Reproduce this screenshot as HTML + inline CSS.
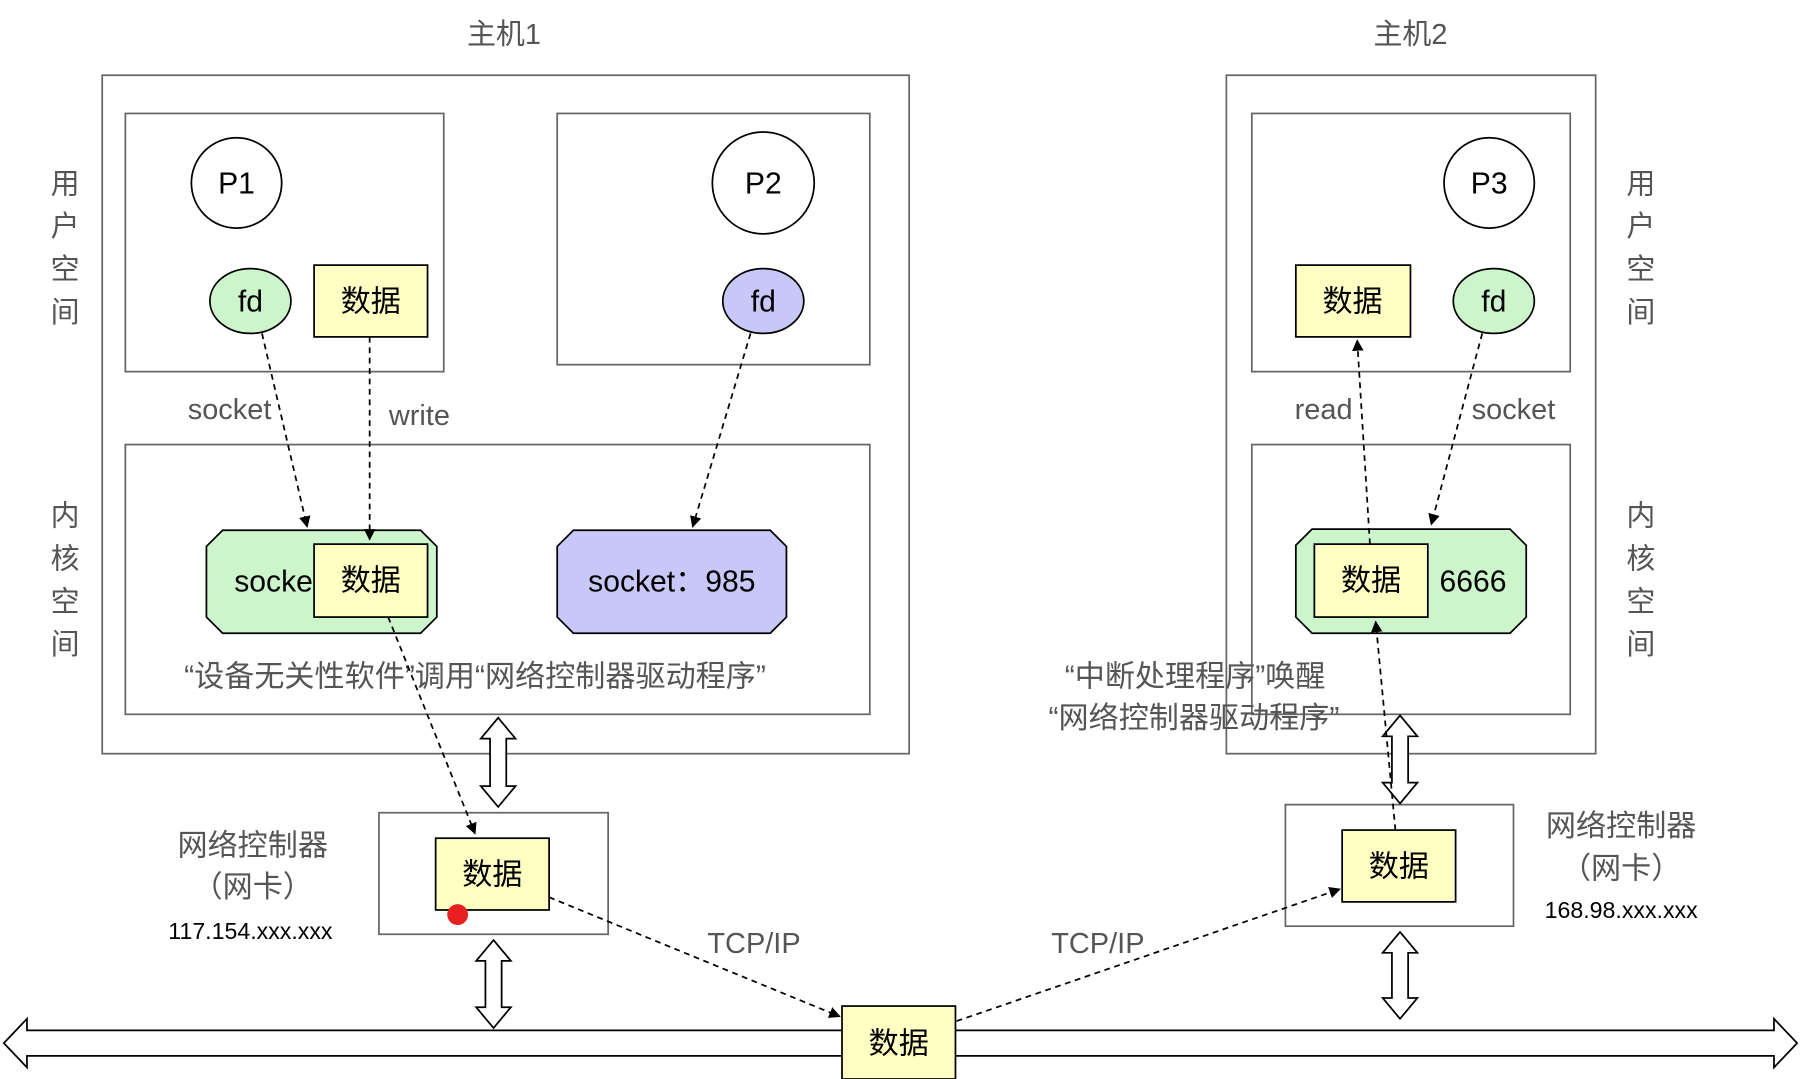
<!DOCTYPE html>
<html><head><meta charset="utf-8">
<style>
html,body{margin:0;padding:0;background:#fff;width:1816px;height:1079px;overflow:hidden}
svg{display:block}
text{font-family:"Liberation Sans","Noto Sans CJK SC",sans-serif}
</style></head><body>
<svg width="1816" height="1079" viewBox="0 0 1568 932" xmlns="http://www.w3.org/2000/svg">
<defs>
<marker id="ah" markerWidth="10" markerHeight="10" refX="9" refY="5" orient="auto" markerUnits="userSpaceOnUse">
<path d="M0,0 L10,5 L0,10 z" fill="#000"/></marker>
</defs>
<rect width="1568" height="932" fill="#fff"/>
<g font-size="25" fill="#555" text-anchor="middle">
<text x="435" y="38">主机1</text><text x="1218" y="38">主机2</text>
</g>
<g fill="none" stroke="#666" stroke-width="1.5">
<rect x="88" y="65" width="697" height="586"/>
<rect x="1059" y="65" width="319" height="586"/>
<rect x="108" y="98" width="275" height="223"/>
<rect x="481" y="98" width="270" height="217"/>
<rect x="108" y="384" width="643" height="233"/>
<rect x="1081" y="98" width="275" height="223"/>
<rect x="1081" y="384" width="275" height="233"/>
<rect x="327" y="702" width="198" height="105"/>
<rect x="1110" y="695" width="197" height="105"/>
</g>
<g font-size="25" fill="#555" text-anchor="middle">
<text x="56" y="167">用</text><text x="56" y="204">户</text><text x="56" y="241">空</text><text x="56" y="278">间</text>
<text x="56" y="454">内</text><text x="56" y="491">核</text><text x="56" y="528">空</text><text x="56" y="565">间</text>
<text x="1417" y="167">用</text><text x="1417" y="204">户</text><text x="1417" y="241">空</text><text x="1417" y="278">间</text>
<text x="1417" y="454">内</text><text x="1417" y="491">核</text><text x="1417" y="528">空</text><text x="1417" y="565">间</text>
</g>
<g stroke="#000" stroke-width="1.5" fill="#fff">
<circle cx="204" cy="158" r="39"/><circle cx="659" cy="158" r="44"/><circle cx="1286" cy="158" r="39"/>
<ellipse cx="216" cy="260" rx="35" ry="28" fill="#ccf5cc"/>
<ellipse cx="659" cy="260" rx="35" ry="28" fill="#c8c8f8"/>
<ellipse cx="1290" cy="260" rx="35" ry="28" fill="#ccf5cc"/>
<polygon points="192,458 363,458 377,472 377,533 363,547 192,547 178,533 178,472" fill="#ccf5cc"/>
<polygon points="495,458 665,458 679,472 679,533 665,547 495,547 481,533 481,472" fill="#c8c8f8"/>
<polygon points="1133,457 1304,457 1318,471 1318,533 1304,547 1133,547 1119,533 1119,471" fill="#ccf5cc"/>
</g>
<g font-size="26" fill="#000" text-anchor="middle">
<text x="204" y="167">P1</text><text x="659" y="167">P2</text><text x="1286" y="167">P3</text>
<text x="216" y="269">fd</text><text x="659" y="269">fd</text><text x="1290" y="269">fd</text>
<text x="236" y="511">socke</text>
<text x="580" y="511">socket：985</text>
<text x="1272" y="511">6666</text>
</g>
<g stroke="#000" stroke-width="1.5" fill="#ffffc4">
<rect x="271" y="229" width="98" height="62"/>
<rect x="1119" y="229" width="99" height="62"/>
<rect x="271" y="470" width="98" height="63"/>
<rect x="1135" y="470" width="98" height="63"/>
<rect x="376" y="724" width="98" height="62"/>
<rect x="1159" y="717" width="98" height="62"/>
</g>
<g font-size="26" fill="#000" text-anchor="middle">
<text x="320" y="269">数据</text><text x="1168" y="269">数据</text>
<text x="320" y="510">数据</text><text x="1184" y="510">数据</text>
<text x="425" y="764">数据</text><text x="1208" y="757">数据</text>
</g>
<circle cx="395" cy="790" r="9" fill="#e82020"/>
<g font-size="26" fill="#555" text-anchor="middle">
<text x="410" y="593">“设备无关性软件”调用“网络控制器驱动程序”</text>
<text x="1032" y="593">“中断处理程序”唤醒</text>
<text x="1031" y="629">“网络控制器驱动程序”</text>
<text x="218" y="739">网络控制器</text><text x="218" y="775">（网卡）</text>
<text x="1400" y="722">网络控制器</text><text x="1400" y="759">（网卡）</text>
</g>
<g font-size="25" fill="#555" text-anchor="middle">
<text x="198" y="362">socket</text><text x="362" y="367">write</text>
<text x="1143" y="362">read</text><text x="1307" y="362">socket</text>
<text x="651" y="823">TCP/IP</text><text x="948" y="823">TCP/IP</text>
</g>
<g font-size="20" fill="#000" text-anchor="middle">
<text x="216" y="811">117.154.xxx.xxx</text><text x="1400" y="793">168.98.xxx.xxx</text>
</g>
<polygon points="3,901 23,880 23,890 1532,890 1532,880 1552,901 1532,922 1532,912 23,912 23,922" fill="#fff" stroke="#000" stroke-width="1.5"/>
<g fill="#fff" stroke="#000" stroke-width="1.5">
<polygon points="430,620 445,638 437,638 437,679 445,679 430,697 415,679 423,679 423,638 415,638"/>
<polygon points="426,812 441,830 433,830 433,870 441,870 426,888 411,870 419,870 419,830 411,830"/>
<polygon points="1209,618 1224,636 1216,636 1216,676 1224,676 1209,694 1194,676 1202,676 1202,636 1194,636"/>
<polygon points="1209,805 1224,823 1216,823 1216,862 1224,862 1209,880 1194,862 1202,862 1202,823 1194,823"/>
</g>
<rect x="727" y="869" width="98" height="63" fill="#ffffc4" stroke="#000" stroke-width="1.5"/>
<text x="776" y="910" font-size="26" text-anchor="middle" fill="#000">数据</text>
<g stroke="#000" stroke-width="1.5" stroke-dasharray="5,4" fill="none" marker-end="url(#ah)">
<line x1="226" y1="288" x2="265" y2="455"/>
<line x1="319" y1="291" x2="319" y2="466"/>
<line x1="648" y1="288" x2="598" y2="455"/>
<line x1="335" y1="533" x2="410" y2="720"/>
<line x1="474" y1="775" x2="725" y2="878"/>
<line x1="826" y1="882" x2="1157" y2="768"/>
<line x1="1205" y1="717" x2="1188" y2="537"/>
<line x1="1183" y1="470" x2="1172" y2="294"/>
<line x1="1280" y1="288" x2="1236" y2="453"/>
</g>
</svg>
</body></html>
